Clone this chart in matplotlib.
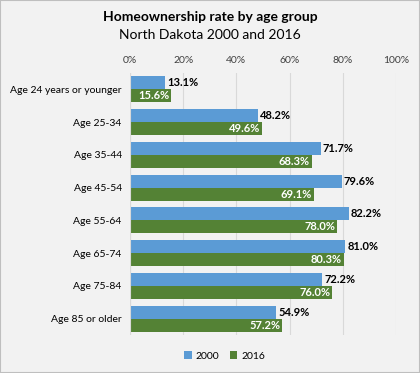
import numpy as np
import matplotlib
matplotlib.use('Agg')
from matplotlib import pyplot as plt
from matplotlib.ticker import FuncFormatter

plt.rcParams['font.family'] = ['Lato', 'DejaVu Sans']

# data
groups = ['Age 24 years or younger', 'Age 25-34', 'Age 35-44', 'Age 45-54',
          'Age 55-64', 'Age 65-74', 'Age 75-84', 'Age 85 or older']
rate_2000 = [13.1, 48.2, 71.7, 79.6, 82.2, 81.0, 72.2, 54.9]
rate_2016 = [15.6, 49.6, 68.3, 69.1, 78.0, 80.3, 76.0, 57.2]
ticks = [0, 20, 40, 60, 80, 100]

blue = '#5B9BD5'
green = '#548235'
bg = '#F2F2F2'

fig = plt.figure(figsize=(4.2, 3.73), dpi=100, facecolor=bg)
ax = fig.add_axes([130 / 420, 1 - 335 / 373, 266 / 420, 262 / 373], facecolor=bg)

y = np.arange(len(groups))
h = 0.4
b1 = ax.barh(y - h / 2, rate_2000, height=h, color=blue, label='2000', zorder=3)
b2 = ax.barh(y + h / 2, rate_2016, height=h, color=green, label='2016', zorder=3)

for rect, v in zip(b1, rate_2000):
    ax.text(v + 0.8, rect.get_y() + rect.get_height() / 2, '%.1f%%' % v,
            ha='left', va='center', fontsize=8, fontweight='bold', color='black')
for rect, v in zip(b2, rate_2016):
    ax.text(v - 0.8, rect.get_y() + rect.get_height() / 2, '%.1f%%' % v,
            ha='right', va='center', fontsize=8, fontweight='bold', color='white')

ax.set_xlim(0, 100)
ax.set_ylim(len(groups) - 0.5, -0.5)
ax.set_xticks(ticks)
ax.xaxis.set_major_formatter(FuncFormatter(lambda v, p: '%d%%' % v))
ax.xaxis.tick_top()
ax.tick_params(axis='x', length=0, labelsize=7.5, colors='#404040', pad=6)
ax.tick_params(axis='y', length=0, labelsize=7.5, colors='black', pad=6)
ax.set_yticks(y)
ax.set_yticklabels(groups)
ax.grid(axis='x', color='#D9D9D9', linewidth=0.8, zorder=0)
for s in ax.spines.values():
    s.set_visible(False)
ax.axvline(0, color='#D9D9D9', linewidth=0.8, zorder=4)

fig.text(0.5, 1 - 17 / 373, 'Homeownership rate by age group', ha='center', va='center',
         fontsize=10, fontweight='bold')
fig.text(0.5, 1 - 35 / 373, 'North Dakota 2000 and 2016', ha='center', va='center',
         fontsize=10)

fig.legend(handles=[b1, b2], loc='center', bbox_to_anchor=(0.535, 1 - 356 / 373),
           ncol=2, frameon=False, fontsize=7.5, handlelength=0.7, handleheight=0.7,
           columnspacing=1.0, handletextpad=0.4)

fig.patches.append(plt.Rectangle((0, 0), 1, 1, transform=fig.transFigure,
                                 fill=False, edgecolor='#BFBFBF', linewidth=1.5))

fig.savefig('out.png', dpi=100, facecolor=bg)
